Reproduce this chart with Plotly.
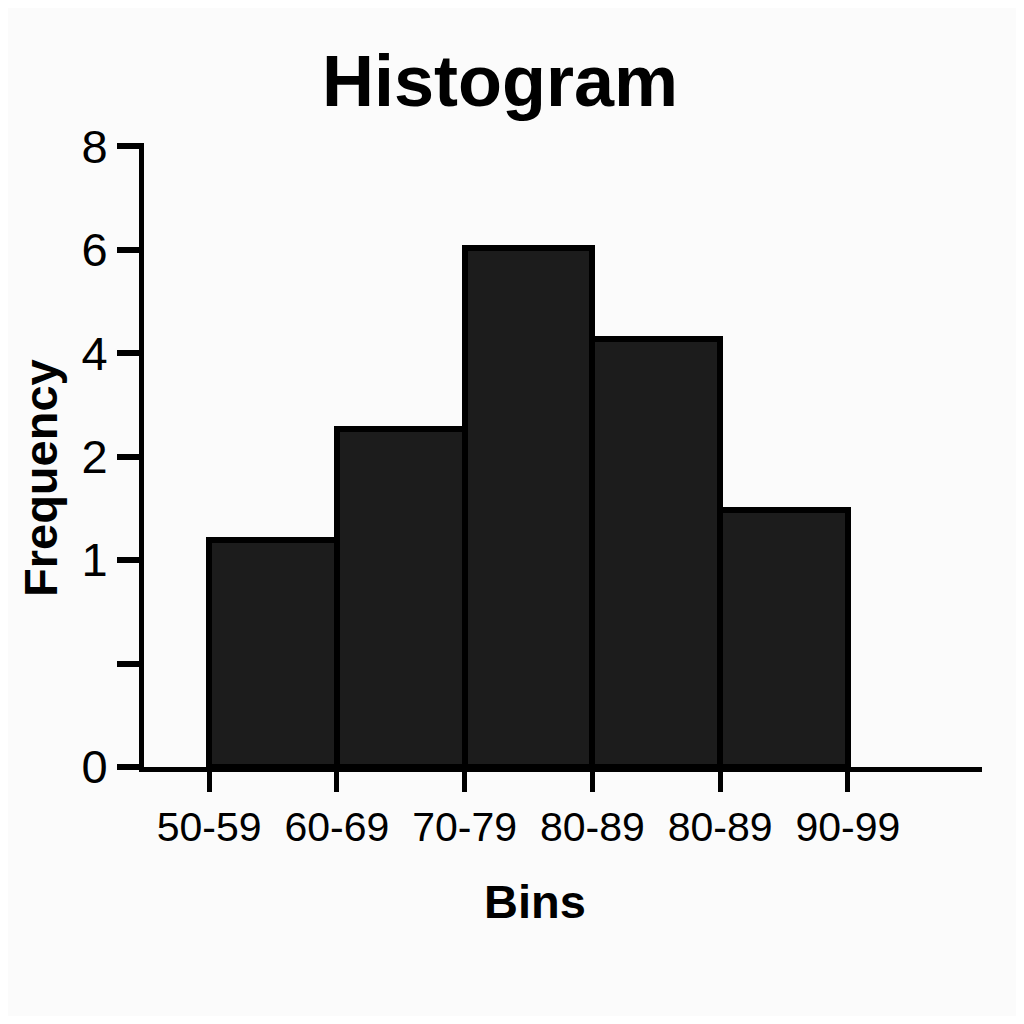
import plotly.graph_objects as go

# Data (bar heights in the chart's drawn axis units; axis labels are non-linear)
bin_edge_labels = ["50-59", "60-69", "70-79", "80-89", "80-89", "90-99"]
bar_centers = [0.5, 1.5, 2.5, 3.5, 4.5]
bar_heights = [2.19, 3.27, 5.02, 4.14, 2.48]
y_tick_positions = [0, 1, 2, 3, 4, 5, 6]
y_tick_labels = ["0", "", "1", "2", "4", "6", "8"]

OFF = 8  # page body margin
W, H = 1008, 1008
L, T = 144 - OFF, 143 - OFF
R, B = (W + OFF) - 982, (H + OFF) - 767
pw, ph = W - L - R, H - T - B

def px_x(px):
    return (px - OFF - L) / pw

def px_y(py):
    return (H - B - (py - OFF)) / ph

fig = go.Figure()
fig.add_trace(go.Bar(
    x=bar_centers, y=bar_heights, width=1.0,
    marker=dict(color="#1c1c1c", line=dict(color="#000000", width=6)),
    hoverinfo="skip",
))

FONT = "Liberation Sans, Arial, sans-serif"

fig.update_layout(
    width=W, height=H,
    margin=dict(l=L, r=R, t=T, b=B),
    paper_bgcolor="#fbfbfb", plot_bgcolor="#fbfbfb",
    showlegend=False,
    bargap=0,
    font=dict(family=FONT, color="#000000"),
    xaxis=dict(
        range=[-0.51, 6.05],
        tickmode="array", tickvals=list(range(len(bin_edge_labels))), ticktext=bin_edge_labels,
        ticks="outside", ticklen=20, tickwidth=5, tickcolor="#000000",
        showline=True, linecolor="#000000", linewidth=5,
        showgrid=False, zeroline=False,
        tickfont=dict(size=41, family=FONT, color="#000000"),
        ticklabelstandoff=0,
    ),
    yaxis=dict(
        range=[0, 6.03],
        tickmode="array", tickvals=y_tick_positions, ticktext=y_tick_labels,
        ticks="outside", ticklen=22, tickwidth=6, tickcolor="#000000",
        showline=True, linecolor="#000000", linewidth=5,
        showgrid=False, zeroline=False,
        tickfont=dict(size=47, family=FONT, color="#000000"),
        ticklabelstandoff=0,
    ),
    annotations=[
        dict(text="<b>Histogram</b>", x=px_x(500), y=px_y(81), xref="paper", yref="paper",
             xanchor="center", yanchor="middle", showarrow=False,
             font=dict(size=72, family=FONT, color="#000000")),
        dict(text="<b>Bins</b>", x=px_x(535), y=px_y(902), xref="paper", yref="paper",
             xanchor="center", yanchor="middle", showarrow=False,
             font=dict(size=47, family=FONT, color="#000000")),
        dict(text="<b>Frequency</b>", x=px_x(40), y=px_y(478), xref="paper", yref="paper",
             xanchor="center", yanchor="middle", showarrow=False, textangle=-90,
             font=dict(size=47, family=FONT, color="#000000")),
    ],
)

fig.write_html("out.html")
